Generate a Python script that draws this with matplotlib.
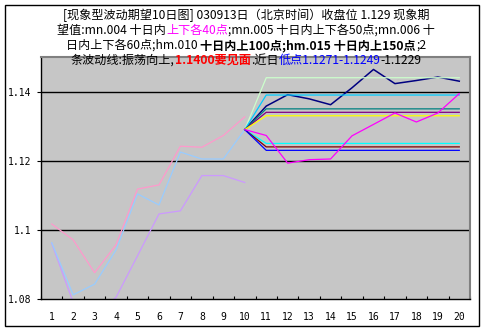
#!/usr/bin/env python3
"""Ten-day phenomenon-type wave expectation chart (030913)."""

import numpy as np
import matplotlib
matplotlib.use("Agg")
import matplotlib.pyplot as plt
from matplotlib.patches import Rectangle
from matplotlib.transforms import IdentityTransform
from matplotlib.ticker import FixedLocator, NullFormatter

W, H = 486, 332
CJK = ["Noto Sans CJK SC", "DejaVu Sans"]

days = list(range(1, 21))
day_labels = [str(d) for d in days]

# days 1..10
pink = [1.1017, 1.0971, 1.0876, 1.0957, 1.1118, 1.1130, 1.1242, 1.1239, 1.1273, 1.1327]
light_blue = [1.0963, 1.0812, 1.0843, 1.0942, 1.1104, 1.1072, 1.1225, 1.1205, 1.1205, 1.1290]
lavender = [1.0961, 1.0790, 1.0750, 1.0805, 1.0925, 1.1046, 1.1055, 1.1157, 1.1157, 1.1137]

# days 10..20
navy = [1.1290, 1.1358, 1.1391, 1.1379, 1.1362, 1.1411, 1.1464, 1.1423, 1.1432, 1.1442, 1.1430]
magenta = [1.1290, 1.1273, 1.1193, 1.1203, 1.1205, 1.1272, 1.1305, 1.1338, 1.1312, 1.1338, 1.1394]

close = 1.129
# expectation bands: from close on day 10, then held flat for days 11..20
band_levels = {
    "#CCFFCC": 1.144,  # +150
    "#00CCFF": 1.139,  # +100
    "#008080": 1.135,  # +60
    "#800080": 1.134,  # +50
    "#FFFF00": 1.133,  # +40
    "#00FFFF": 1.125,  # -40
    "#800000": 1.124,  # -50
    "#0000FF": 1.123,  # -60
}

yticks = [1.08, 1.10, 1.12, 1.14]
ytick_labels = ["1.08", "1.1", "1.12", "1.14"]

fig = plt.figure(figsize=(W / 100, H / 100), dpi=100)
fig.patch.set_facecolor("white")
ax = fig.add_axes([41 / W, (H - 299) / H, (470 - 41) / W, (299 - 57) / H])
ax.set_facecolor("#C6C6C6")

lw = 0.9
ax.plot(days[:10], pink, color="#FF99CC", lw=lw)
ax.plot(days[:10], lavender, color="#CC99FF", lw=lw)
ax.plot(days[:10], light_blue, color="#99CCFF", lw=lw)

right_days = days[9:]
ax.plot(right_days, navy, color="#000080", lw=1.1)
for color, level in band_levels.items():
    ax.plot(right_days, [close] + [level] * 10, color=color, lw=lw)
ax.plot(right_days, magenta, color="#FF00FF", lw=lw)

ax.set_xlim(0.5, 20.5)
ax.set_ylim(1.08, 1.15)
for y in yticks[1:]:
    ax.axhline(y, color="black", lw=1.0, zorder=0.5)

ax.set_yticks(yticks)
ax.set_yticklabels(ytick_labels, family="DejaVu Sans Mono", fontsize=7)
ax.tick_params(axis="y", direction="out", length=3, width=0.8, pad=4)

ax.xaxis.set_major_locator(FixedLocator(np.arange(0.5, 21, 1.0)))
ax.xaxis.set_major_formatter(NullFormatter())
ax.set_xticks(days, minor=True)
ax.set_xticklabels(day_labels, minor=True, family="DejaVu Sans Mono", fontsize=7)
ax.tick_params(axis="x", which="major", direction="in", length=2.5, width=0.8)
ax.tick_params(axis="x", which="minor", length=0, pad=9)

for side in ("left", "bottom"):
    ax.spines[side].set_color("black")
    ax.spines[side].set_linewidth(1.0)
for side in ("top", "right"):
    ax.spines[side].set_color("#808080")
    ax.spines[side].set_linewidth(1.5)

# outer frame
fig.add_artist(Rectangle((5 / W, (H - 326) / H), 474 / W, 321 / H,
                         transform=fig.transFigure, fill=False,
                         edgecolor="black", lw=1.0))

FS = 8.7
renderer = fig.canvas.get_renderer()


def piece_width(s, weight):
    t = fig.text(0, 0, "X" + s + "X", fontsize=FS, family=CJK, fontweight=weight)
    t2 = fig.text(0, 0, "XX", fontsize=FS, family=CJK, fontweight=weight)
    w = t.get_window_extent(renderer).width - t2.get_window_extent(renderer).width
    t.remove()
    t2.remove()
    return w


def rich_line(y_center, parts, cx=246):
    widths = [piece_width(s, wt) for s, _, wt in parts]
    x = cx - sum(widths) / 2
    for (s, color, wt), w in zip(parts, widths):
        fig.text(x, H - y_center - 4, s, color=color, fontsize=FS, family=CJK,
                 fontweight=wt, transform=IdentityTransform(),
                 va="baseline", ha="left", zorder=10)
        x += w


rich_line(15, [("[现象型波动期望10日图] 030913日（北京时间）收盘位 1.129 现象期", "black", "normal")])
rich_line(30, [("望值:mn.004 十日内", "black", "normal"),
               ("上下各40点", "#FF00FF", "normal"),
               (";mn.005 十日内上下各50点;mn.006 十", "black", "normal")])
rich_line(45, [("日内上下各60点;hm.010 ", "black", "normal"),
               ("十日内上100点;hm.015 十日内上150点", "black", "bold"),
               (";2", "black", "normal")])
rich_line(60, [("条波动线:振荡向上,", "black", "normal"),
               ("1.1400要见面", "red", "bold"),
               (".近日", "black", "normal"),
               ("低点1.1271-1.1249", "blue", "normal"),
               ("-1.1229", "black", "normal")])

fig.savefig("out.png", dpi=100)
